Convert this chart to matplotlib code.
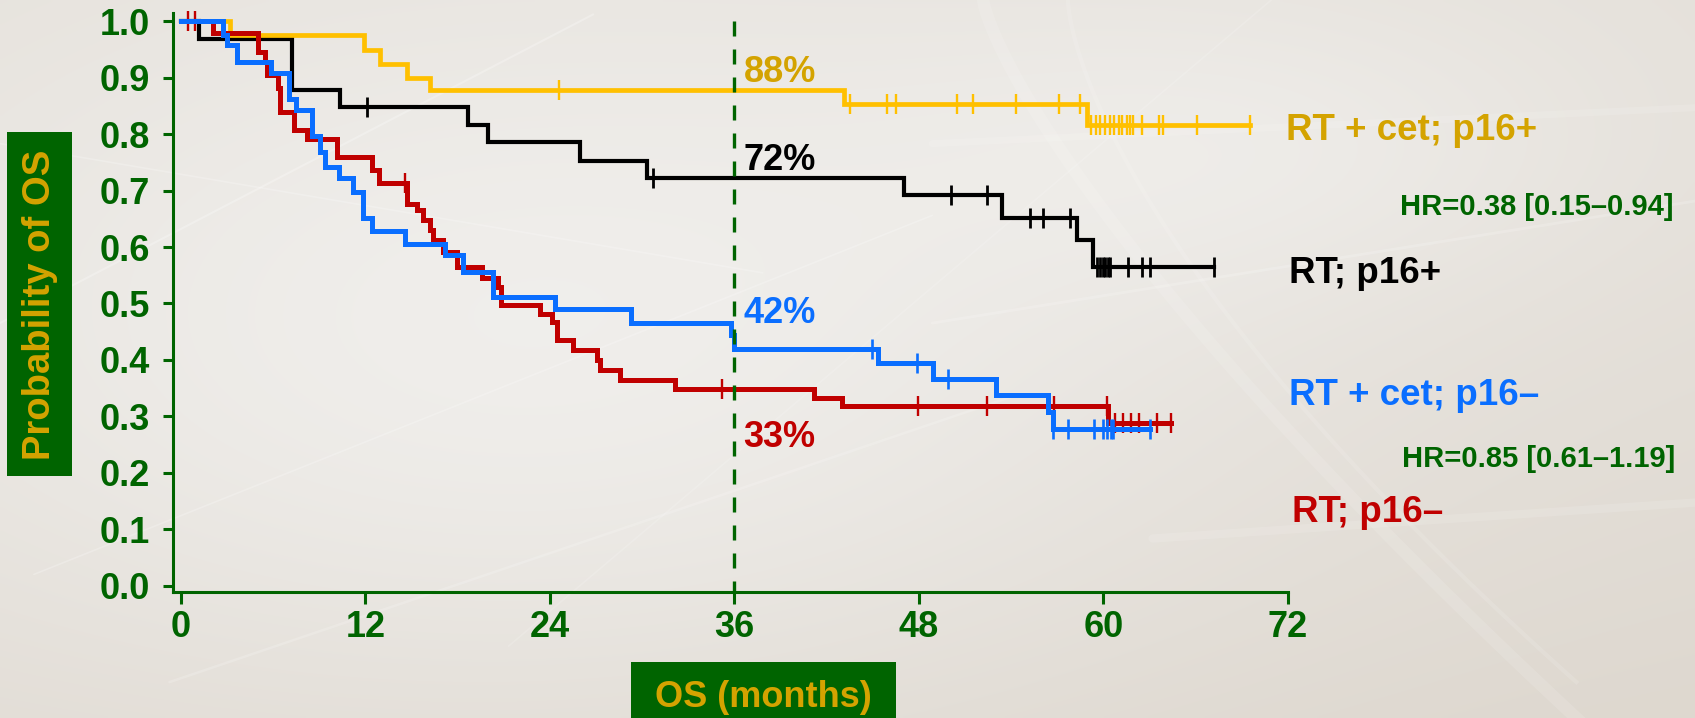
import numpy as np
import matplotlib
matplotlib.use("Agg")
import matplotlib.pyplot as plt
from matplotlib.patches import Rectangle

W, H, DPI = 1695, 718, 100

# ---- Kaplan-Meier data: event times (months), survival after each event, censor times ----
cet_p16pos_times = [3.2, 11.9, 12.95, 14.7, 16.2, 43.1, 58.9]
cet_p16pos_surv = [0.976, 0.950, 0.925, 0.900, 0.879, 0.853, 0.817]
cet_p16pos_cens = [24.6, 43.5, 45.9, 46.5, 50.5, 51.5, 54.3, 57.1, 58.5, 59.2, 59.5,
                   59.8, 60.1, 60.4, 60.7, 61.0, 61.2, 61.5, 61.7, 61.9, 62.5, 63.6,
                   63.9, 66.1, 69.5]

rt_p16pos_times = [1.2, 7.2, 10.35, 18.7, 20.0, 25.96, 30.3, 47.0, 53.4, 58.3, 59.3]
rt_p16pos_surv = [0.968, 0.879, 0.849, 0.816, 0.787, 0.752, 0.722, 0.692, 0.651,
                  0.6125, 0.565]
rt_p16pos_cens = [12.1, 30.7, 50.1, 52.4, 55.2, 56.1, 57.8, 59.6, 59.8, 60.0, 60.1,
                  60.3, 60.4, 61.6, 62.5, 63.0, 67.2]

rt_p16neg_times = [2.1, 5.05, 5.5, 5.6, 6.35, 6.45, 7.36, 8.2, 10.13, 12.41, 12.9,
                   14.72, 15.33, 15.77, 16.2, 16.42, 17.07, 17.94, 19.56, 20.65, 20.8,
                   23.36, 24.11, 24.44, 25.52, 27.04, 27.26, 28.56, 32.13, 41.2, 43.0,
                   60.3]
rt_p16neg_surv = [0.979, 0.946, 0.928, 0.905, 0.881, 0.840, 0.807, 0.791, 0.760,
                  0.736, 0.714, 0.677, 0.666, 0.648, 0.630, 0.613, 0.592, 0.565,
                  0.545, 0.530, 0.498, 0.482, 0.468, 0.435, 0.418, 0.400, 0.382,
                  0.364, 0.349, 0.332, 0.319, 0.288]
rt_p16neg_cens = [0.5, 0.9, 14.6, 35.2, 47.95, 52.4, 56.8, 60.2, 60.75, 61.25, 61.8,
                  62.3, 63.5, 64.4]

cet_p16neg_times = [2.77, 3.03, 3.63, 5.86, 7.06, 7.49, 8.51, 9.05, 9.38, 10.31, 11.17,
                    11.87, 12.41, 14.58, 17.18, 18.37, 20.32, 24.33, 29.25, 35.75,
                    36.0, 45.35, 48.93, 53.0, 56.4, 56.7]
cet_p16neg_surv = [0.976, 0.958, 0.928, 0.909, 0.863, 0.843, 0.796, 0.769, 0.742,
                   0.722, 0.698, 0.651, 0.628, 0.605, 0.586, 0.556, 0.512, 0.490,
                   0.465, 0.444, 0.419, 0.394, 0.367, 0.337, 0.308, 0.277]
cet_p16neg_cens = [44.95, 47.9, 49.9, 56.75, 57.7, 59.4, 60.0, 60.2, 60.5, 60.6, 63.0]

x_ticks = [0, 12, 24, 36, 48, 60, 72]
y_ticks = [0.0, 0.1, 0.2, 0.3, 0.4, 0.5, 0.6, 0.7, 0.8, 0.9, 1.0]
landmark = 36
landmark_labels = ["88%", "72%", "42%", "33%"]
group_labels = ["RT + cet; p16+", "RT; p16+", "RT + cet; p16\u2013", "RT; p16\u2013"]
hr_labels = ["HR=0.38 [0.15\u20130.94]", "HR=0.85 [0.61\u20131.19]"]

GREEN = "#006400"
GOLD_TXT = "#D4A300"
YELLOW = "#FFC000"
BLACK = "#000000"
BLUE = "#0A6EFF"
RED = "#C00000"

plt.rcParams["font.family"] = ["Liberation Sans", "DejaVu Sans"]
plt.rcParams["font.weight"] = "bold"

fig = plt.figure(figsize=(W / DPI, H / DPI), dpi=DPI)


def fx(px):
    return px / W


def fy(py):
    return 1 - py / H


# ---- soft slide background ----
bg = fig.add_axes([0, 0, 1, 1], zorder=-10)
v, u = np.mgrid[0:1:200j, 0:1:470j]
light = np.array([0.942, 0.936, 0.925])
dark = np.array([0.872, 0.848, 0.815])
bump = np.exp(-((u - 0.32) ** 2 / 0.18 + (v - 0.5) ** 2 / 0.30))
bump += 0.5 * np.exp(-((u - 0.75) ** 2 / 0.05 + (v - 0.2) ** 2 / 0.05))
w = np.clip(0.35 + 0.7 * bump - 0.25 * v ** 2 - 0.15 * (u * v), 0, 1)
img = dark[None, None, :] + (light - dark)[None, None, :] * w[..., None]
bg.imshow(img, extent=[0, 1, 0, 1], aspect="auto", origin="upper",
          interpolation="bilinear")
streaks = [((0.0, 0.55), (0.35, 0.98), 1.5, 0.25),
           ((0.02, 0.20), (0.55, 0.70), 1.2, 0.22),
           ((0.10, 0.05), (0.60, 0.45), 1.8, 0.18),
           ((0.00, 0.80), (0.45, 0.62), 1.2, 0.22),
           ((0.30, 0.10), (0.75, 1.00), 1.2, 0.15),
           ((0.55, 0.55), (1.00, 0.72), 2.0, 0.18),
           ((0.55, 0.80), (1.00, 0.85), 5.0, 0.12),
           ((0.68, 0.25), (1.00, 0.30), 6.0, 0.12)]
for (x0, y0), (x1, y1), lw, a in streaks:
    bg.plot([x0, x1], [y0, y1], color="white", lw=lw, alpha=a,
            solid_capstyle="round")
t_arc = np.linspace(0, 1, 100)
bg.plot(0.58 + 0.35 * t_arc ** 1.3, 1.0 - 1.0 * t_arc, color="white", lw=9,
        alpha=0.12)
bg.plot(0.63 + 0.30 * t_arc ** 1.5, 1.0 - 0.95 * t_arc, color="white", lw=3,
        alpha=0.12)
bg.set_xlim(0, 1)
bg.set_ylim(0, 1)
bg.axis("off")

# ---- main survival axes ----
x0p, x1p = 173.1, 1288.0
ytop, ybot = 13.4, 591.9
ax = fig.add_axes([fx(x0p), fy(ybot), (x1p - x0p) / W, (ybot - ytop) / H])
ax.patch.set_alpha(0)
ax.set_xlim(-0.5, 72)
ax.set_ylim(-0.011, 1.014)
for side in ("top", "right"):
    ax.spines[side].set_visible(False)
for side in ("left", "bottom"):
    ax.spines[side].set_color(GREEN)
    ax.spines[side].set_linewidth(2.2)

ax.set_xticks(x_ticks)
ax.set_xticklabels([str(t) for t in x_ticks])
ax.set_yticks(y_ticks)
ax.set_yticklabels([f"{t:.1f}" for t in y_ticks])
ax.tick_params(axis="y", length=7.2, width=2.2, pad=9.6, labelsize=26,
               color=GREEN, labelcolor=GREEN)
ax.tick_params(axis="x", length=8.6, width=2.2, pad=4.5, labelsize=26,
               color=GREEN, labelcolor=GREEN)


def km_curve(times, surv, cens, color, lw, mew, z):
    end = max(max(cens), max(times))
    t = np.concatenate([[0.0], times, [end]])
    s = np.concatenate([[1.0], surv, [surv[-1]]])
    ax.step(t, s, where="post", color=color, lw=lw, zorder=z,
            solid_joinstyle="miter")
    idx = np.searchsorted(times, cens, side="right")
    s_c = np.concatenate([[1.0], surv])[idx]
    ax.plot(cens, s_c, ls="none", marker="|", ms=15, mew=mew, color=color,
            zorder=z, clip_on=False)


km_curve(rt_p16pos_times, rt_p16pos_surv, rt_p16pos_cens, BLACK, 3.0, 2.0, 3)
km_curve(cet_p16pos_times, cet_p16pos_surv, cet_p16pos_cens, YELLOW, 3.4, 1.7, 4)
km_curve(rt_p16neg_times, rt_p16neg_surv, rt_p16neg_cens, RED, 3.6, 1.7, 5)
km_curve(cet_p16neg_times, cet_p16neg_surv, cet_p16neg_cens, BLUE, 3.6, 1.9, 6)

# landmark at 36 months
ax.plot([landmark, landmark], [1.0, -0.011], color=GREEN, lw=2.4,
        dashes=(4.5, 3.9), zorder=8, clip_on=False)

label_y = [0.893, 0.7366, 0.466, 0.2463]
label_c = [GOLD_TXT, BLACK, BLUE, RED]
for txt, yv, c in zip(landmark_labels, label_y, label_c):
    ax.text(landmark + 0.6, yv, txt, ha="left", va="baseline", fontsize=26,
            color=c, fontweight="bold")

# group labels and hazard ratios on the right
group_pos = [(1286, 140), (1289, 283), (1289, 405), (1292, 522)]
for txt, (px, py), c in zip(group_labels, group_pos, label_c):
    fig.text(fx(px), fy(py), txt, ha="left", va="baseline", fontsize=26.5,
             color=c, fontweight="bold")
hr_pos = [(1400, 215), (1402, 467)]
for txt, (px, py) in zip(hr_labels, hr_pos):
    fig.text(fx(px), fy(py), txt, ha="left", va="baseline", fontsize=21,
             color=GREEN, fontweight="bold")

# axis title boxes
fig.add_artist(Rectangle((fx(7), fy(476)), (72 - 7) / W, (476 - 132) / H,
                         transform=fig.transFigure, facecolor=GREEN,
                         edgecolor="none", zorder=1))
fig.text(fx(40), fy(305), "Probability of OS", rotation=90, ha="center",
         va="center", fontsize=27.5, color=GOLD_TXT, fontweight="bold", zorder=2)
fig.add_artist(Rectangle((fx(631), 0), (896 - 631) / W, (718 - 662) / H,
                         transform=fig.transFigure, facecolor=GREEN,
                         edgecolor="none", zorder=1))
fig.text(fx(763.5), fy(706.7), "OS (months)", ha="center", va="baseline",
         fontsize=26, color=GOLD_TXT, fontweight="bold", zorder=2)

fig.savefig("out.png", dpi=DPI)
